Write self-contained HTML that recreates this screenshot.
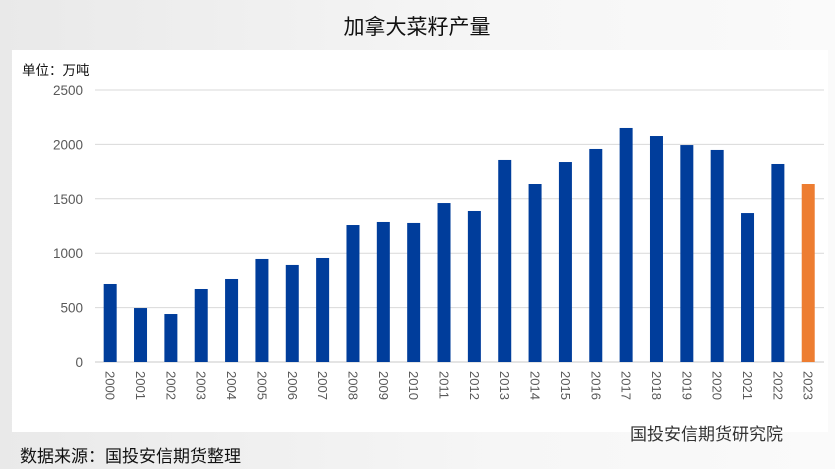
<!DOCTYPE html>
<html><head><meta charset="utf-8"><style>
body{margin:0;width:835px;height:469px;overflow:hidden;background:linear-gradient(90deg,#e9e9e9,#f6f6f6 60%,#fafafa);font-family:"Liberation Sans","Noto Sans CJK SC",sans-serif}
svg{position:absolute;left:0;top:0}
</style></head><body>
<svg width="835" height="469">
<rect x="12" y="50" width="816" height="382" fill="#fff"/>
<text x="417" y="34" font-size="21" text-anchor="middle" fill="#111" font-family="Liberation Sans, Noto Sans CJK SC, sans-serif">加拿大菜籽产量</text>
<text x="22" y="75" font-size="13.5" fill="#111" font-family="Liberation Sans, Noto Sans CJK SC, sans-serif">单位：万吨</text>
<text x="20" y="462" font-size="17" fill="#111" font-family="Liberation Sans, Noto Sans CJK SC, sans-serif">数据来源：国投安信期货整理</text>
<text x="630" y="440" font-size="17" fill="#333" font-family="Liberation Sans, Noto Sans CJK SC, sans-serif">国投安信期货研究院</text>
<g id="g"></g>
</svg>
<script>
const years=["2000","2001","2002","2003","2004","2005","2006","2007","2008","2009","2010","2011","2012","2013","2014","2015","2016","2017","2018","2019","2020","2021","2022","2023"];
const values=[717,496,441,671,763,947,892,956,1259,1287,1278,1461,1388,1857,1636,1838,1958,2151,2077,1994,1949,1369,1820,1636];
const ticks=[0,500,1000,1500,2000,2500];
const NS="http://www.w3.org/2000/svg",g=document.getElementById('g');
const y0=362,y1=90,x0=95,step=30.35;
const Y=v=>y0-(y0-y1)*v/2500;
const X=i=>x0+step*(i+0.5);
function mk(t,a){const e=document.createElementNS(NS,t);for(const k in a)e.setAttribute(k,a[k]);g.appendChild(e);return e;}
ticks.forEach(t=>{
 const l=mk('line',{x1:x0,x2:824,y1:Y(t),y2:Y(t),stroke:t?'#d9d9d9':'#c8c8c8','stroke-width':1});
 
 
 const tx=mk('text',{x:83,y:Y(t)+5,'font-size':13.5,fill:'#595959','text-anchor':'end'});
 tx.textContent=t;
 
 
});
values.forEach((v,i)=>{
 const r=mk('rect',{x:X(i)-6.5,y:Y(v),width:13,height:y0-Y(v),fill:i==values.length-1?'#ed7d31':'#003d9b'});
 
 
 const t=mk('text',{x:0,y:0,'font-size':13,fill:'#595959',transform:`translate(${X(i)-4.5},371) rotate(90)`});
 t.textContent=years[i];
 
 
});
</script>
</body></html>
